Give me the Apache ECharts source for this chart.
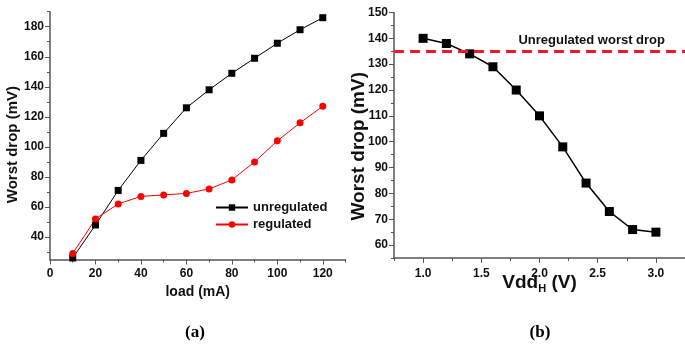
<!DOCTYPE html>
<html>
<head>
<meta charset="utf-8">
<script src="https://cdn.jsdelivr.net/npm/echarts@6/dist/echarts.min.js"></script>
<style>
html,body{margin:0;padding:0;background:#fff;}
#chart{width:685px;height:345px;}
</style>
</head>
<body>
<div id="chart"></div>
<script>
// (a) worst drop vs load
var loadMA = [10, 20, 30, 40, 50, 60, 70, 80, 90, 100, 110, 120];
var unregulated = [26, 48, 71, 91, 109, 126, 138, 149, 159, 169, 178, 186];
var regulated = [29, 52, 62, 67, 68, 69, 72, 78, 90, 104, 116, 127];
// (b) worst drop vs VddH
var vddH = [1.0, 1.2, 1.4, 1.6, 1.8, 2.0, 2.2, 2.4, 2.6, 2.8, 3.0];
var dropB = [140, 138, 134, 129, 120, 110, 98, 84, 73, 66, 65];
var unregWorst = 135;

// tick positions
var loadTicks = [0, 20, 40, 60, 80, 100, 120];
var loadMinor = [10, 30, 50, 70, 90, 110, 130];
var dropTicksA = [40, 60, 80, 100, 120, 140, 160, 180];
var dropMinorA = [30, 50, 70, 90, 110, 130, 150, 170, 190];
var vddTicks = [1.0, 1.5, 2.0, 2.5, 3.0];
var vddMinor = [0.75, 1.25, 1.75, 2.25, 2.75, 3.25];
var dropTicksB = [60, 70, 80, 90, 100, 110, 120, 130, 140, 150];
var dropMinorB = [55, 65, 75, 85, 95, 105, 115, 125, 135, 145];

function pairs(xs, ys){
    return xs.map(function(x, i){ return [x, ys[i]]; });
}

var chart = echarts.init(document.getElementById('chart'));
var font = 'Liberation Sans, Arial, sans-serif';
var axisCol = '#555';

function axis(grid, min, max, ticks, opts){
    var a = {
        type: 'value', gridIndex: grid, min: min, max: max,
        axisLine: {show: true, lineStyle: {color: axisCol, width: 1.5}},
        axisTick: {show: true, inside: false, length: 5, customValues: ticks, lineStyle: {color: axisCol}},
        splitLine: {show: false},
        axisLabel: {color: '#111', fontFamily: font, fontWeight: 'bold', fontSize: 12, margin: 6, customValues: ticks},
        nameLocation: 'middle',
        nameMoveOverlap: false
    };
    return Object.assign(a, opts || {});
}
// extra axis that only carries the short minor ticks
function minorAxis(grid, min, max, ticks, pos){
    return {
        type: 'value', gridIndex: grid, min: min, max: max, position: pos,
        axisLine: {show: false},
        axisTick: {show: true, length: 3, customValues: ticks, lineStyle: {color: axisCol}},
        axisLabel: {show: false},
        splitLine: {show: false}
    };
}

var option = {
    animation: false,
    title: [
        {text: '(a)', left: 190, top: 319, textAlign: 'center',
         textStyle: {fontFamily: 'Liberation Serif, Times New Roman, serif', fontWeight: 'bold', fontSize: 17, color: '#000'}},
        {text: '(b)', left: 535, top: 319, textAlign: 'center',
         textStyle: {fontFamily: 'Liberation Serif, Times New Roman, serif', fontWeight: 'bold', fontSize: 17, color: '#000'}}
    ],
    legend: {
        data: ['unregulated', 'regulated'],
        orient: 'vertical',
        left: 210,
        top: 196,
        itemWidth: 32,
        itemHeight: 8,
        itemGap: 4,
        textStyle: {fontFamily: font, fontWeight: 'bold', fontSize: 13, color: '#111'}
    },
    grid: [
        {left: 50, top: 11.7, width: 295.5, height: 247.8},
        {left: 394, top: 12.5, width: 295.5, height: 245.5}
    ],
    xAxis: [
        axis(0, 0, 130, loadTicks, {
            position: 'bottom',
            name: 'load (mA)', nameGap: 26,
            nameTextStyle: {fontFamily: font, fontWeight: 'bold', fontSize: 14, color: '#111'},
            axisLabel: {color: '#111', fontFamily: font, fontWeight: 'bold', fontSize: 12, margin: 8, customValues: loadTicks}
        }),
        axis(1, 0.75, 3.25, vddTicks, {
            position: 'bottom',
            name: '{a|Vdd}{s|H}{a| (V)}', nameGap: 13,
            nameTextStyle: {
                rich: {
                    a: {fontFamily: font, fontWeight: 'bold', fontSize: 19, color: '#111'},
                    s: {fontFamily: font, fontWeight: 'bold', fontSize: 11, color: '#111', verticalAlign: 'bottom', padding: [12, 0, 0, 0]}
                }
            },
            axisLabel: {color: '#111', fontFamily: font, fontWeight: 'bold', fontSize: 12, margin: 10, customValues: vddTicks,
                        formatter: function(v){ return v.toFixed(1); }}
        }),
        minorAxis(0, 0, 130, loadMinor, 'bottom'),
        minorAxis(1, 0.75, 3.25, vddMinor, 'bottom')
    ],
    yAxis: [
        axis(0, 25, 190, dropTicksA, {
            position: 'left',
            name: 'Worst drop (mV)', nameGap: 30, nameRotate: 90,
            nameTextStyle: {fontFamily: font, fontWeight: 'bold', fontSize: 15, color: '#111', padding: [0, 18, 0, 0]}
        }),
        axis(1, 55, 150, dropTicksB, {
            position: 'left',
            name: 'Worst drop (mV)', nameGap: 26, nameRotate: 90,
            nameTextStyle: {fontFamily: font, fontWeight: 'bold', fontSize: 19, color: '#111', padding: [0, 22, 0, 0]}
        }),
        minorAxis(0, 25, 190, dropMinorA, 'left'),
        minorAxis(1, 55, 150, dropMinorB, 'left')
    ],
    series: [
        {
            name: 'unregulated', type: 'line', xAxisIndex: 0, yAxisIndex: 0,
            data: pairs(loadMA, unregulated),
            symbol: 'rect', symbolSize: 7,
            lineStyle: {color: '#000', width: 1},
            itemStyle: {color: '#000'}
        },
        {
            name: 'regulated', type: 'line', xAxisIndex: 0, yAxisIndex: 0,
            data: pairs(loadMA, regulated),
            symbol: 'circle', symbolSize: 7,
            lineStyle: {color: '#ff0000', width: 1},
            itemStyle: {color: '#ff0000'}
        },
        {
            name: 'VddH', type: 'line', xAxisIndex: 1, yAxisIndex: 1,
            data: pairs(vddH, dropB),
            symbol: 'rect', symbolSize: 9,
            lineStyle: {color: '#000', width: 1.5},
            itemStyle: {color: '#000'},
            markLine: {
                silent: true, symbol: 'none',
                lineStyle: {color: '#ee1c1c', width: 3, type: [10, 6]},
                label: {show: true, position: 'insideEndTop', distance: [20, 4],
                        formatter: 'Unregulated worst drop',
                        fontFamily: font, fontWeight: 'bold', fontSize: 13, color: '#111'},
                data: [{yAxis: unregWorst}]
            }
        }
    ]
};
chart.setOption(option);
</script>
</body>
</html>
